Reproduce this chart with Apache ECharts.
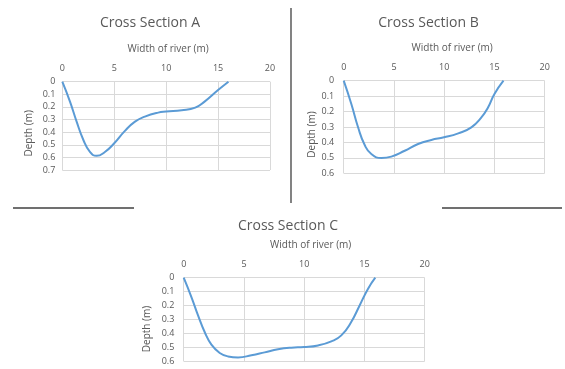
<!DOCTYPE html>
<html>
<head>
<meta charset="utf-8">
<script src="https://cdn.jsdelivr.net/npm/echarts@6/dist/echarts.min.js"></script>
<style>
  html, body { margin: 0; padding: 0; background: #fff; }
  #main { width: 565px; height: 369px; }
</style>
</head>
<body>
<div id="main"></div>
<script>
// River cross-section profiles: [width from bank (m), depth (m)]
const sectionA = [[0, 0], [0.74, 0.158], [1.38, 0.317], [2.02, 0.46], [2.66, 0.557], [3.3, 0.588], [4.1, 0.557], [5, 0.488], [6.03, 0.39], [7, 0.317], [7.95, 0.277], [9.23, 0.245], [10, 0.237], [11.5, 0.227], [12.8, 0.206], [13.7, 0.158], [15, 0.066], [16, 0]];
const sectionB = [[0, 0], [0.76, 0.151], [1.43, 0.302], [2.09, 0.417], [2.75, 0.475], [3.75, 0.501], [4.74, 0.492], [6.07, 0.454], [7.4, 0.41], [8.72, 0.384], [9.98, 0.367], [11.4, 0.341], [12.7, 0.302], [13.7, 0.238], [14.36, 0.173], [15, 0.086], [15.9, 0]];
const sectionC = [[0, 0], [0.64, 0.139], [1.19, 0.27], [1.74, 0.39], [2.3, 0.48], [2.99, 0.54], [3.68, 0.565], [4.51, 0.572], [5.62, 0.557], [6.72, 0.536], [7.83, 0.514], [8.93, 0.502], [9.99, 0.498], [11.15, 0.486], [12.25, 0.457], [13.08, 0.414], [13.9, 0.318], [14.6, 0.199], [15.3, 0.079], [15.9, 0]];

const titles = ['Cross Section A', 'Cross Section B', 'Cross Section C'];
const xTicks = { min: 0, max: 20, interval: 5 };
const depthMax = [0.7, 0.6, 0.6];

const grey = '#595959';
const gridGrey = '#d9d9d9';
const font = '"Open Sans", "Liberation Sans", sans-serif';

// Panel placement
const layouts = [
  { left: 62.3, top: 81.7, width: 207.7, height: 88.3, titleX: 150, titleY: 16,
    yLabelMargin: 7, yNameGap: 28, yNamePad: 15, xNamePad: 4 },
  { left: 343.7, top: 80.7, width: 201, height: 92.6, titleX: 428.5, titleY: 16,
    yLabelMargin: 9.5, yNameGap: 27, yNamePad: 15, xNamePad: 16 },
  { left: 183.7, top: 277.7, width: 241, height: 83.6, titleX: 288, titleY: 219,
    yLabelMargin: 9.4, yNameGap: 32, yNamePad: 19, xNamePad: 13 }
];
const data = [sectionA, sectionB, sectionC];

const chart = echarts.init(document.getElementById('main'), null, { renderer: 'canvas' });

chart.setOption({
  animation: false,
  title: layouts.map((l, i) => ({
    text: titles[i], left: l.titleX, top: l.titleY, textAlign: 'center', padding: 0,
    textStyle: { fontFamily: font, fontSize: 14, fontWeight: 'normal', color: grey }
  })),
  grid: layouts.map(l => ({ left: l.left, top: l.top, width: l.width, height: l.height, containLabel: false })),
  xAxis: layouts.map((l, i) => ({
    gridIndex: i, type: 'value', position: 'top',
    min: xTicks.min, max: xTicks.max, interval: xTicks.interval,
    name: 'Width of river (m)', nameLocation: 'middle', nameGap: 28,
    nameTextStyle: { fontFamily: font, fontSize: 10, color: grey, padding: [0, 0, 0, l.xNamePad] },
    axisLine: { show: false }, axisTick: { show: false },
    axisLabel: { fontFamily: font, fontSize: 9, color: grey, margin: 9 },
    splitLine: { show: true, lineStyle: { color: gridGrey, width: 1 } }
  })),
  yAxis: layouts.map((l, i) => ({
    gridIndex: i, type: 'value', inverse: true,
    min: 0, max: depthMax[i], interval: 0.1,
    name: 'Depth (m)', nameLocation: 'middle', nameGap: l.yNameGap,
    nameTextStyle: { fontFamily: font, fontSize: 10, color: grey, padding: [0, l.yNamePad, 0, 0] },
    axisLine: { show: false }, axisTick: { show: false },
    axisLabel: { fontFamily: font, fontSize: 9, color: grey, margin: l.yLabelMargin },
    splitLine: { show: true, lineStyle: { color: gridGrey, width: 1 } }
  })),
  series: data.map((d, i) => ({
    type: 'line', xAxisIndex: i, yAxisIndex: i, data: d,
    smooth: 0.5, showSymbol: false,
    lineStyle: { color: '#5b9bd5', width: 2 }
  })),
  graphic: [
    { type: 'line', shape: { x1: 291, y1: 8, x2: 291, y2: 203 }, style: { stroke: '#404040', lineWidth: 1.3 } },
    { type: 'line', shape: { x1: 13, y1: 208, x2: 134, y2: 208 }, style: { stroke: '#404040', lineWidth: 1.3 } },
    { type: 'line', shape: { x1: 442, y1: 208, x2: 562, y2: 208 }, style: { stroke: '#404040', lineWidth: 1.3 } }
  ]
});
</script>
</body>
</html>
